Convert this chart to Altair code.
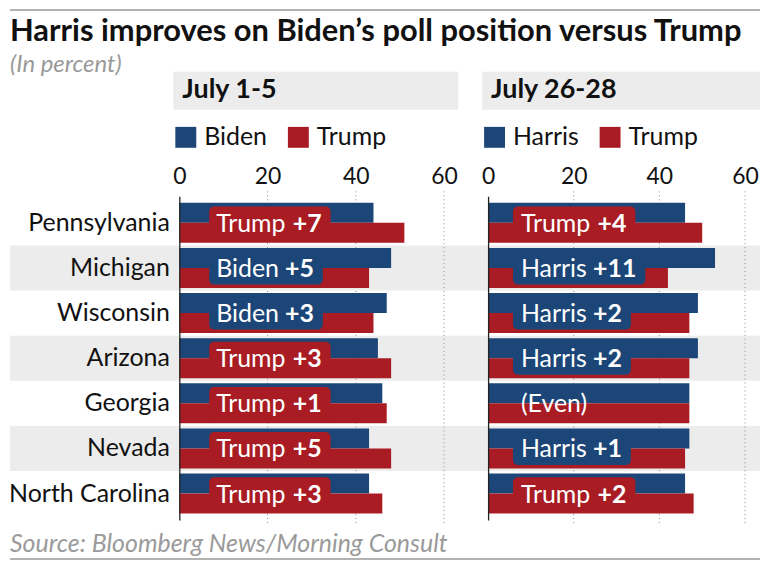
import altair as alt
import pandas as pd

# ---------------- data ----------------
states = ["Pennsylvania", "Michigan", "Wisconsin", "Arizona", "Georgia", "Nevada", "North Carolina"]
biden_jul1 = [44, 48, 47, 45, 46, 43, 43]
trump_jul1 = [51, 43, 44, 48, 47, 48, 46]
harris_jul26 = [46, 53, 49, 49, 47, 47, 46]
trump_jul26 = [50, 42, 47, 47, 47, 46, 48]
tick_values = [0, 20, 40, 60]
periods = ["July 1-5", "July 26-28"]
dem_names = ["Biden", "Harris"]
rep_name = "Trump"
title_text = "Harris improves on Biden\u2019s poll position versus Trump"
subtitle_text = "(In percent)"
source_text = "Source: Bloomberg News/Morning Consult"

# ---------------- style ----------------
BLUE = "#1c4677"
RED = "#a91c23"
BAND = "#ececec"
INK = "#111111"
GREY_TXT = "#9a9a9a"
FONT = "Lato"
LBL_SIZE = 25
PLOT_H = 325
LEFT_REACH = -170
RIGHT_REACH = 583

REG = {'T': 0.555, 'r': 0.365, 'u': 0.55, 'm': 0.83, 'p': 0.555, 'B': 0.65, 'i': 0.25,
       'd': 0.565, 'e': 0.525, 'n': 0.555, 'H': 0.76, 'a': 0.505, 's': 0.43, ' ': 0.22,
       '(': 0.3, ')': 0.3, 'E': 0.56, 'v': 0.5}
BOLD = {'+': 0.58}


def text_w(s, bold=False, size=LBL_SIZE):
    w = 0.0
    for c in s:
        if bold:
            w += BOLD.get(c, 0.58)
        else:
            w += REG.get(c, 0.54)
    return w * size


def y_enc(show_labels):
    return alt.Y(
        "state:N", sort=states,
        scale=alt.Scale(domain=states, paddingInner=0, paddingOuter=0.087),
        axis=alt.Axis(title=None, labels=show_labels, ticks=False, tickSize=0, domain=True,
                      domainColor="#222222", domainWidth=1.3, labelFont=FONT,
                      labelFontSize=25, labelColor=INK, labelPadding=10, grid=False, zindex=1),
    )


def make_panel(idx, dem_vals, rep_vals, width, dmax, box_px, text_px, left):
    dem = dem_names[idx]
    ppu = width / dmax
    xscale = alt.Scale(domain=[0, dmax], nice=False, zero=True)
    xaxis = alt.Axis(orient="top", values=tick_values, title=None, domain=False, ticks=False,
                     tickSize=0, grid=False, labelFont=FONT, labelFontSize=23, labelColor=INK,
                     labelPadding=8, labelFlush=False)
    cscale = alt.Scale(domain=[dem, rep_name], range=[BLUE, RED])

    bars = pd.DataFrame(
        [{"state": s, "cand": dem, "party": "D", "value": d} for s, d in zip(states, dem_vals)]
        + [{"state": s, "cand": rep_name, "party": "R", "value": r} for s, r in zip(states, rep_vals)]
    )

    rows = []
    for s, d, r in zip(states, dem_vals, rep_vals):
        diff = r - d
        if diff > 0:
            leader, name, bold = rep_name, rep_name, f"+{diff}"
        elif diff < 0:
            leader, name, bold = dem, dem, f"+{-diff}"
        else:
            leader, name, bold = "", "(Even)", ""
        bstart = text_px + text_w(name + " ")
        bend = bstart + text_w(bold, bold=True) + 9
        rows.append({"state": s, "leader": leader, "name": name, "bold": bold,
                     "tx0": text_px / ppu, "tx1": bstart / ppu,
                     "bx0": box_px / ppu, "bx1": bend / ppu})
    labels = pd.DataFrame(rows)

    layers = []
    if left:
        shade = pd.DataFrame({"state": [s for i, s in enumerate(states) if i % 2 == 1]})
        layers.append(
            alt.Chart(shade).mark_rect(color=BAND).encode(
                x=alt.value(LEFT_REACH), x2=alt.value(RIGHT_REACH), y=y_enc(True))
        )
        one = lambda v: pd.DataFrame({"t": [v]})
        layers.append(alt.Chart(one("line")).mark_rule(color="#999999", strokeWidth=1.5).encode(
            x=alt.value(LEFT_REACH), x2=alt.value(RIGHT_REACH), y=alt.value(-187)))
        layers.append(alt.Chart(one("line")).mark_rule(color="#999999", strokeWidth=1.5).encode(
            x=alt.value(LEFT_REACH), x2=alt.value(RIGHT_REACH), y=alt.value(364)))
        layers.append(alt.Chart(one(title_text)).mark_text(
            align="left", baseline="alphabetic", font=FONT, fontSize=31, fontWeight="bold",
            color=INK).encode(x=alt.value(LEFT_REACH), y=alt.value(-155.5), text="t:N"))
        layers.append(alt.Chart(one(subtitle_text)).mark_text(
            align="left", baseline="alphabetic", font=FONT, fontSize=24, fontStyle="italic",
            color=GREY_TXT).encode(x=alt.value(LEFT_REACH), y=alt.value(-124.5), text="t:N"))
        layers.append(alt.Chart(one(source_text)).mark_text(
            align="left", baseline="alphabetic", font=FONT, fontSize=25, fontStyle="italic",
            color=GREY_TXT).encode(x=alt.value(LEFT_REACH), y=alt.value(357), text="t:N"))

    head = pd.DataFrame({"h": [periods[idx]]})
    layers.append(alt.Chart(head).mark_rect(color=BAND).encode(
        x=alt.value(-6), x2=alt.value(width), y=alt.value(-125), y2=alt.value(-87)))
    layers.append(alt.Chart(head).mark_text(
        align="left", baseline="alphabetic", font=FONT, fontSize=27, fontWeight="bold",
        color=INK).encode(x=alt.value(3), y=alt.value(-99), text="h:N"))

    grid = pd.DataFrame({"tick": [t for t in tick_values if t > 0]})
    layers.append(alt.Chart(grid).mark_rule(strokeDash=[1, 3], color="#8a8a8a", strokeWidth=1).encode(
        x=alt.X("tick:Q", scale=xscale, axis=xaxis), y=alt.value(-5), y2=alt.value(PLOT_H + 5)))

    layers.append(alt.Chart(bars).mark_bar().encode(
        x=alt.X("value:Q", scale=xscale, axis=xaxis),
        y=y_enc(left),
        yOffset=alt.YOffset("party:N", scale=alt.Scale(domain=["D", "R"], paddingOuter=0.13, paddingInner=0)),
        color=alt.Color("cand:N", scale=cscale, legend=alt.Legend(
            title=None, orient="none", legendX=-6, legendY=-72, direction="horizontal",
            symbolType="square", symbolSize=441, symbolStrokeWidth=0, symbolOpacity=1,
            labelFont=FONT, labelFontSize=25, labelColor=INK, labelOffset=6,
            columnPadding=18, padding=0)),
    ))

    boxes = labels[labels["leader"] != ""]
    layers.append(alt.Chart(boxes).mark_bar(height=33, cornerRadius=5).encode(
        x=alt.X("bx0:Q", scale=xscale, axis=xaxis), x2="bx1:Q",
        y=y_enc(left),
        color=alt.Color("leader:N", scale=cscale, legend=None),
    ))
    layers.append(alt.Chart(labels).mark_text(
        align="left", baseline="middle", font=FONT, fontSize=LBL_SIZE, color="white", dy=1).encode(
        x=alt.X("tx0:Q", scale=xscale, axis=xaxis), y=y_enc(left), text="name:N"))
    layers.append(alt.Chart(boxes).mark_text(
        align="left", baseline="middle", font=FONT, fontSize=LBL_SIZE, fontWeight="bold",
        color="white", dy=1).encode(
        x=alt.X("tx1:Q", scale=xscale, axis=xaxis), y=y_enc(left), text="bold:N"))

    return alt.layer(*layers).properties(width=width, height=PLOT_H)


left = make_panel(0, biden_jul1, trump_jul1, 280, 63.2, 30, 37, True)
right = make_panel(1, harris_jul26, trump_jul26, 273, 63.5, 25, 33, False)

chart = (
    alt.hconcat(left, right, spacing=30)
    .resolve_scale(color="independent", x="independent")
    .properties(bounds="flush", padding=0)
    .configure_view(stroke=None)
)

chart.save("out.html", embed_options={"renderer": "svg", "actions": False})
